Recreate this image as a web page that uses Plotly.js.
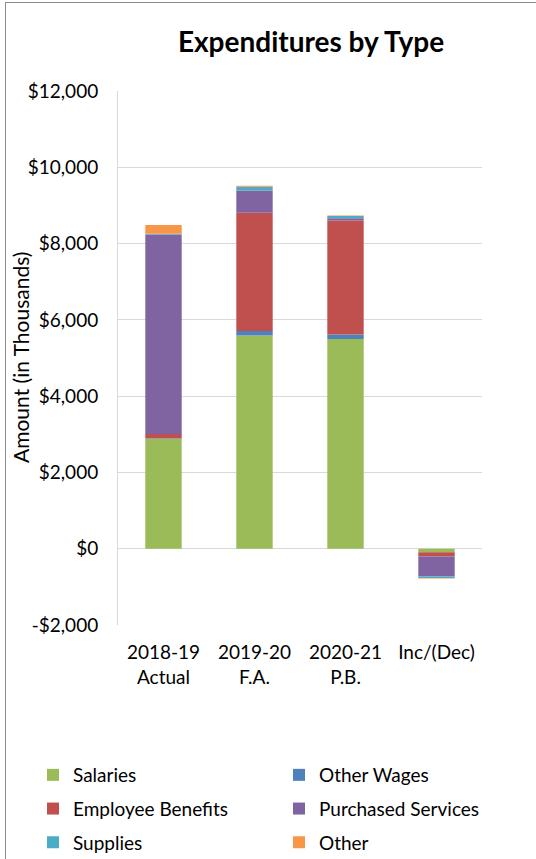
<!DOCTYPE html>
<html><head><meta charset="utf-8">
<script src="https://cdn.plot.ly/plotly-3.0.1.min.js"></script>
<style>
html,body{margin:0;padding:0;background:#fff;}
#frame{position:absolute;left:5px;top:2px;width:600px;height:900px;border-left:1.5px solid #8c8c8c;border-top:1.5px solid #8c8c8c;pointer-events:none;}
#chart{position:absolute;left:0;top:0;width:536px;height:859px;}
</style></head>
<body>
<div id="chart"></div>
<div id="frame"></div>
<script>
const categories = ["2018-19<br>Actual", "2019-20<br>F.A.", "2020-21<br>P.B.", "Inc/(Dec)"];
const salaries = [2880, 5590, 5500, -90];
const otherWages = [15, 115, 115, -2];
const employeeBenefits = [110, 3100, 2990, -110];
const purchasedServices = [5230, 585, 60, -525];
const supplies = [25, 100, 60, -40];
const other = [230, 25, 10, -15];
const tickVals = [-2000, 0, 2000, 4000, 6000, 8000, 10000, 12000];
const tickText = ["-$2,000", "$0", "$2,000", "$4,000", "$6,000", "$8,000", "$10,000", "$12,000"];
const yTitle = "Amount (in Thousands)";

const FONT = "Lato, 'Open Sans', sans-serif";
const series = [
  {name: "Salaries", y: salaries, color: "#9BBB59"},
  {name: "Other Wages", y: otherWages, color: "#4F81BD"},
  {name: "Employee Benefits", y: employeeBenefits, color: "#C0504D"},
  {name: "Purchased Services", y: purchasedServices, color: "#8064A2"},
  {name: "Supplies", y: supplies, color: "#4BACC6"},
  {name: "Other", y: other, color: "#F79646"}
];
const traces = series.map((s, i) => ({
  type: "bar", name: s.name, x: categories, y: s.y,
  marker: {color: s.color, line: {width: 0}},
  legend: i % 2 === 0 ? "legend" : "legend2",
  legendgroup: "g" + i, hoverinfo: "x+y+name"
}));

function leg(xl) {
  return {orientation: "v", xref: "container", yref: "container",
    x: xl/536, xanchor: "left", y: 1 - 809/859, yanchor: "middle",
    bgcolor: "rgba(0,0,0,0)", traceorder: "grouped", tracegroupgap: 6,
    font: {family: FONT, size: 19, color: "#000"}};
}

const layout = {
  width: 536, height: 859,
  margin: {l: 118, r: 54, t: 91, b: 234, autoexpand: false},
  paper_bgcolor: "#fff", plot_bgcolor: "#fff",
  barmode: "relative", bargap: 0.6,
  font: {family: FONT, size: 19, color: "#000"},
  title: {text: "<b>Expenditures by Type</b>", font: {family: FONT, size: 28, color: "#000"},
    xref: "container", yref: "container", x: 311/536, xanchor: "center", y: 1 - 42/859, yanchor: "middle"},
  xaxis: {type: "category", showgrid: false, showline: false, zeroline: false, ticks: "",
    tickfont: {family: FONT, size: 19, color: "#000"}, ticklabelstandoff: 14, fixedrange: true},
  yaxis: {range: [-2000, 12000], tickvals: tickVals, ticktext: tickText,
    showgrid: true, gridcolor: "#D9D9D9", gridwidth: 1, zeroline: false,
    showline: true, linecolor: "#D9D9D9", linewidth: 1, ticks: "",
    tickfont: {family: FONT, size: 19, color: "#000"}, ticklabelstandoff: 15,
    fixedrange: true},
  annotations: [{text: yTitle, textangle: -90, showarrow: false,
    xref: "paper", yref: "paper", x: (20 - 118) / 364, y: 0.5,
    xanchor: "center", yanchor: "middle",
    font: {family: FONT, size: 21, color: "#000"}}],
  legend: leg(33), legend2: leg(279),
  showlegend: true
};
Plotly.newPlot("chart", traces, layout, {displayModeBar: false, staticPlot: true});
</script>
</body></html>
